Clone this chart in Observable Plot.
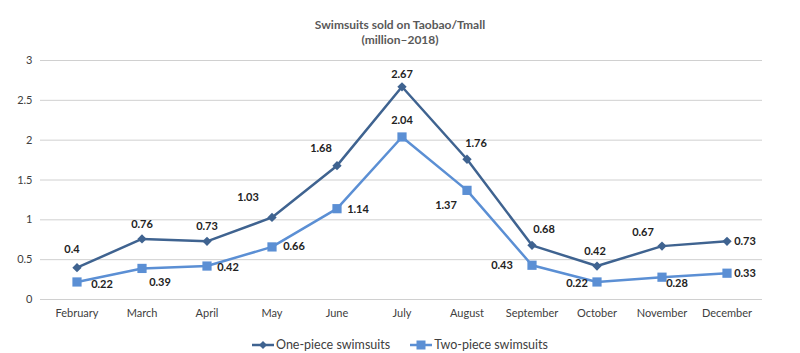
<!DOCTYPE html>
<html>
<head>
<meta charset="utf-8">
<script src="https://cdn.jsdelivr.net/npm/d3@7"></script>
<script src="https://cdn.jsdelivr.net/npm/@observablehq/plot@0.6"></script>
<style>
  html, body { margin: 0; padding: 0; background: #fff; }
  body { width: 800px; height: 353px; overflow: hidden; font-family: Lato, "Open Sans", sans-serif; }
  #title { height: 50px; box-sizing: border-box; padding-top: 17px; text-align: center; color: #595959; font-weight: bold; font-size: 12px; line-height: 15px; }
  #legend { display: flex; justify-content: center; gap: 20px; margin-top: 7px; font-size: 12.5px; color: #404040; padding-left: 0px; }
  #legend .item { display: flex; align-items: center; gap: 2px; }
</style>
</head>
<body>
<div id="title">Swimsuits sold on Taobao/Tmall<br>(million–2018)</div>
<div id="chart"></div>
<div id="legend"></div>
<script>
const months = ["February","March","April","May","June","July","August","September","October","November","December"];
const onePiece = [0.4, 0.76, 0.73, 1.03, 1.68, 2.67, 1.76, 0.68, 0.42, 0.67, 0.73];
const twoPiece = [0.22, 0.39, 0.42, 0.66, 1.14, 2.04, 1.37, 0.43, 0.22, 0.28, 0.33];
const yTicks = [0, 0.5, 1, 1.5, 2, 2.5, 3];
const seriesNames = ["One-piece swimsuits", "Two-piece swimsuits"];

// label offsets (layout only)
const oneOffsets = [[-5,-18],[0,-14],[0,-15],[-24,-20],[-16,-17],[0,-12],[9,-16],[12,-16],[-2,-15],[-19,-14],[18,0]];
const twoOffsets = [[25,2],[18,14],[21,1],[22,0],[21,1],[0,-17],[-21,15],[-30,0],[-20,1],[15,6],[18,0]];

const dark = "#3f6390";
const light = "#5b8fd4";

const one = months.map((m, i) => ({month: m, value: onePiece[i]}));
const two = months.map((m, i) => ({month: m, value: twoPiece[i]}));

const labelMarks = [];
one.forEach((d, i) => labelMarks.push(Plot.text([d], {x: "month", y: "value", text: d => String(d.value), dx: oneOffsets[i][0], dy: oneOffsets[i][1], fill: "#222", fontWeight: "bold", fontSize: 11})));
two.forEach((d, i) => labelMarks.push(Plot.text([d], {x: "month", y: "value", text: d => String(d.value), dx: twoOffsets[i][0], dy: twoOffsets[i][1], fill: "#222", fontWeight: "bold", fontSize: 11})));

const chart = Plot.plot({
  width: 800,
  height: 280,
  marginTop: 10,
  marginBottom: 31,
  marginLeft: 40,
  marginRight: 38,
  style: {fontFamily: "Lato, 'Open Sans', sans-serif", fontSize: "11px", color: "#404040", background: "#fff"},
  x: {type: "band", domain: months, padding: 0, label: null, tickSize: 0, tickPadding: 10},
  y: {domain: [0, 3], ticks: yTicks, label: null, tickSize: 0, tickPadding: 8, tickFormat: d => String(d)},
  marks: [
    Plot.gridY(yTicks, {stroke: "#d0d0d0", strokeOpacity: 1, strokeWidth: 1}),
    Plot.line(one, {x: "month", y: "value", stroke: dark, strokeWidth: 2.5}),
    Plot.line(two, {x: "month", y: "value", stroke: light, strokeWidth: 2.5}),
    Plot.dot(one, {x: "month", y: "value", symbol: "diamond2", r: 4.2, fill: dark, stroke: "none"}),
    Plot.dot(two, {x: "month", y: "value", symbol: "square", r: 5.2, fill: light, stroke: "none"}),
    ...labelMarks
  ]
});
document.getElementById("chart").appendChild(chart);

// legend
const legend = document.getElementById("legend");
const swatch = (color, shape) => {
  const s = d3.create("svg").attr("width", 22).attr("height", 12);
  s.append("line").attr("x1", 0).attr("x2", 22).attr("y1", 6).attr("y2", 6).attr("stroke", color).attr("stroke-width", 2.5);
  if (shape === "diamond") s.append("path").attr("d", "M11,2 L15,6 L11,10 L7,6 Z").attr("fill", color);
  else s.append("rect").attr("x", 6.5).attr("y", 1.5).attr("width", 9).attr("height", 9).attr("fill", color);
  return s.node();
};
[[seriesNames[0], dark, "diamond"], [seriesNames[1], light, "square"]].forEach(([name, color, shape]) => {
  const item = document.createElement("div");
  item.className = "item";
  item.appendChild(swatch(color, shape));
  const t = document.createElement("span");
  t.textContent = name;
  item.appendChild(t);
  legend.appendChild(item);
});
</script>
</body>
</html>
